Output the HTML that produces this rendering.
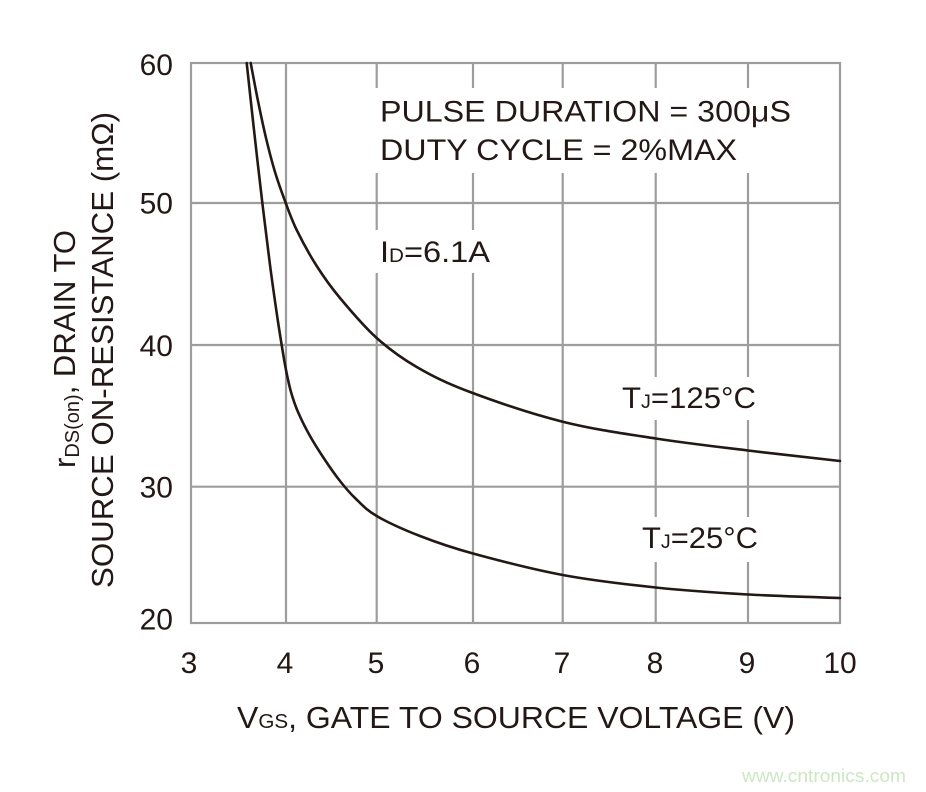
<!DOCTYPE html>
<html>
<head>
<meta charset="utf-8">
<style>
  html,body{margin:0;padding:0;background:#fff;}
  svg{display:block;}
  text{font-family:"Liberation Sans","DejaVu Sans",sans-serif;fill:#231815;}
</style>
</head>
<body>
<svg id="chart" width="926" height="792" viewBox="0 0 926 792" xmlns="http://www.w3.org/2000/svg">
  <rect x="0" y="0" width="926" height="792" fill="#fff"/>
  <!-- grid -->
  <g stroke="#9d9d9d" stroke-width="2.2" fill="none">
    <line x1="286" y1="63" x2="286" y2="623"/>
    <line x1="376.7" y1="63" x2="376.7" y2="623"/>
    <line x1="473" y1="63" x2="473" y2="623"/>
    <line x1="562.7" y1="63" x2="562.7" y2="623"/>
    <line x1="655.7" y1="63" x2="655.7" y2="623"/>
    <line x1="748" y1="63" x2="748" y2="623"/>
    <line x1="191" y1="203" x2="840" y2="203"/>
    <line x1="191" y1="345" x2="840" y2="345"/>
    <line x1="191" y1="486.7" x2="840" y2="486.7"/>
    <rect x="191" y="63" width="649" height="560"/>
  </g>
  <!-- label backgrounds -->
  <g fill="#fff">
    <rect x="370" y="88" width="430" height="85"/>
    <rect x="370" y="230" width="124" height="43"/>
    <rect x="615" y="377" width="145" height="43"/>
    <rect x="636" y="517" width="128" height="45"/>
  </g>
  <!-- curves -->
  <g fill="none" stroke="#231815" stroke-width="2.6" stroke-linecap="round" stroke-linejoin="round">
    <path id="c125" d="M250.7,63 L258,101 L266,138 L275,172 L285,201 L296.7,230 L316.7,266 L340,298 L376.7,338 L416.7,367 L470,392 L562.7,421.7 L655.7,438.5 L748,450.5 L840,461"/>
    <path id="c25" d="M246.7,63 L254,130 L262,200 L270,265 L277,315 L282,347 L286,370 L291,392 L298,412 L310,436 L325,460 L340,481 L355,498 L376.7,516 L420,536 L473,553.5 L562.7,575 L655.7,587.5 L748,594.5 L840,598"/>
  </g>
  <!-- y tick labels -->
  <g font-size="30" text-anchor="end">
    <text x="173" y="75">60</text>
    <text x="173" y="213.5">50</text>
    <text x="173" y="356">40</text>
    <text x="173" y="497.5">30</text>
    <text x="173" y="629.5">20</text>
  </g>
  <!-- x tick labels -->
  <g font-size="30" text-anchor="middle">
    <text x="189" y="673">3</text>
    <text x="285" y="673">4</text>
    <text x="376" y="673">5</text>
    <text x="472" y="673">6</text>
    <text x="562" y="673">7</text>
    <text x="655" y="673">8</text>
    <text x="747" y="673">9</text>
    <text x="840" y="673">10</text>
  </g>
  <!-- x axis title -->
  <text x="237" y="728" font-size="31" textLength="558" lengthAdjust="spacingAndGlyphs">V<tspan font-size="20">GS</tspan>, GATE TO SOURCE VOLTAGE (V)</text>
  <!-- y axis title -->
  <text transform="translate(75,468) rotate(-90)" font-size="31" textLength="238" lengthAdjust="spacingAndGlyphs">r<tspan font-size="20" dy="4">DS(on)</tspan><tspan dy="-4">, DRAIN TO</tspan></text>
  <text transform="translate(113,588) rotate(-90)" font-size="31" textLength="476" lengthAdjust="spacingAndGlyphs">SOURCE ON-RESISTANCE (mΩ)</text>
  <!-- annotations -->
  <text x="380" y="121.5" font-size="30" textLength="411" lengthAdjust="spacingAndGlyphs">PULSE DURATION = 300μS</text>
  <text x="380" y="160" font-size="30" textLength="357" lengthAdjust="spacingAndGlyphs">DUTY CYCLE = 2%MAX</text>
  <text x="380" y="262" font-size="30" textLength="110" lengthAdjust="spacingAndGlyphs">I<tspan font-size="19">D</tspan>=6.1A</text>
  <text x="622" y="408" font-size="30" textLength="134" lengthAdjust="spacingAndGlyphs">T<tspan font-size="19">J</tspan>=125°C</text>
  <text x="642" y="548" font-size="30" textLength="116" lengthAdjust="spacingAndGlyphs">T<tspan font-size="19">J</tspan>=25°C</text>
  <!-- watermark -->
  <text x="742" y="782" font-size="18" textLength="164" lengthAdjust="spacingAndGlyphs" style="fill:#cde7c3">www.cntronics.com</text>
</svg>
<script>
(function(){
  function smooth(pts){
    var d = "M"+pts[0][0]+","+pts[0][1];
    for (var i=0;i<pts.length-1;i++){
      var p0 = pts[i-1]||pts[i], p1=pts[i], p2=pts[i+1], p3=pts[i+2]||pts[i+1];
      var c1x = p1[0]+(p2[0]-p0[0])/6, c1y = p1[1]+(p2[1]-p0[1])/6;
      var c2x = p2[0]-(p3[0]-p1[0])/6, c2y = p2[1]-(p3[1]-p1[1])/6;
      d += " C"+c1x.toFixed(2)+","+c1y.toFixed(2)+" "+c2x.toFixed(2)+","+c2y.toFixed(2)+" "+p2[0]+","+p2[1];
    }
    return d;
  }
  function parse(id){
    var el=document.getElementById(id);
    var d=el.getAttribute("d").replace(/[ML]/g," ").trim().split(/\s+/);
    var pts=d.map(function(s){var a=s.split(",");return [parseFloat(a[0]),parseFloat(a[1])];});
    el.setAttribute("d",smooth(pts));
  }
  try{parse("c125");parse("c25");}catch(e){}
})();
</script>
</body>
</html>
